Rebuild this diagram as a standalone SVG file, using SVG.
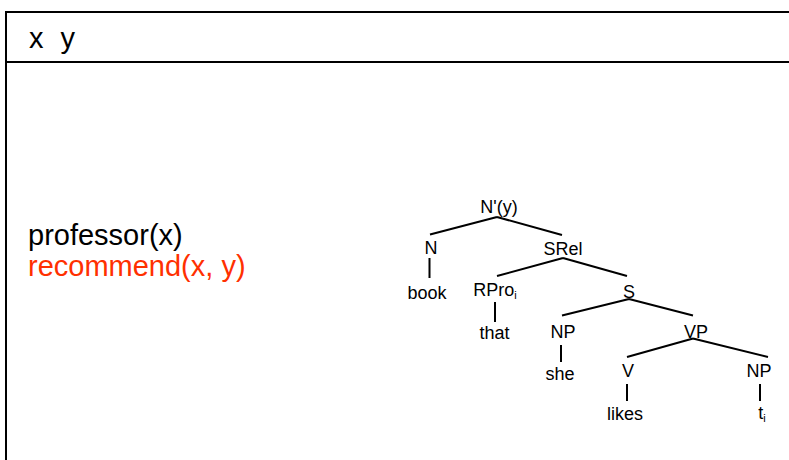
<svg xmlns="http://www.w3.org/2000/svg" width="789" height="460" viewBox="0 0 789 460">
<style>
.frame{stroke:#000;stroke-width:2;fill:none}
.big{font-family:"Liberation Sans",Arial,sans-serif;font-size:29px;fill:#000}
.red{fill:#ff3000}
.t{font-family:"Liberation Sans",Arial,sans-serif;font-size:18px;fill:#000;text-anchor:middle}
.sub{font-size:11px}
.e{stroke:#000;stroke-width:2;fill:none}
</style>
<rect width="789" height="460" fill="#fff"/>
<g id="frame">
<path class="frame" d="M6,461 V12 H790 M6,62 H790"/>
<text class="big" x="29" y="48" word-spacing="9">x y</text>
</g>
<g id="conditions">
<text class="big" x="28" y="245">professor(x)</text>
<text class="big red" x="28" y="276">recommend(x, y)</text>
</g>
<g id="connectors">
<path class="e" d="M497,217 L430,234.5 M497,217 L562,235 M429.5,258 V278 M563,258 L497,276 M563,258 L627,276 M495,302 V322 M629,299 L562,315.5 M629,299 L693,315.5 M561,345 V362 M693,338.5 L627,357 M693,338.5 L768,357 M627,384 V401 M760,384 V401"/>
</g>
<g id="n-nbar"><text class="t" x="499" y="213">N'(y)</text></g>
<g id="n-N"><text class="t" x="431" y="254">N</text></g>
<g id="n-SRel"><text class="t" x="563" y="255">SRel</text></g>
<g id="n-book"><text class="t" x="427" y="299">book</text></g>
<g id="n-RPro"><text class="t" x="495" y="296">RPro<tspan class="sub" dy="3">i</tspan></text></g>
<g id="n-S"><text class="t" x="629" y="298">S</text></g>
<g id="n-that"><text class="t" x="494.5" y="339">that</text></g>
<g id="n-NP1"><text class="t" x="563" y="338">NP</text></g>
<g id="n-VP"><text class="t" x="696" y="338">VP</text></g>
<g id="n-she"><text class="t" x="560" y="380">she</text></g>
<g id="n-V"><text class="t" x="628" y="377">V</text></g>
<g id="n-NP2"><text class="t" x="759" y="377">NP</text></g>
<g id="n-likes"><text class="t" x="625" y="420">likes</text></g>
<g id="n-ti"><text class="t" x="762" y="419">t<tspan class="sub" dy="3">i</tspan></text></g>
</svg>
